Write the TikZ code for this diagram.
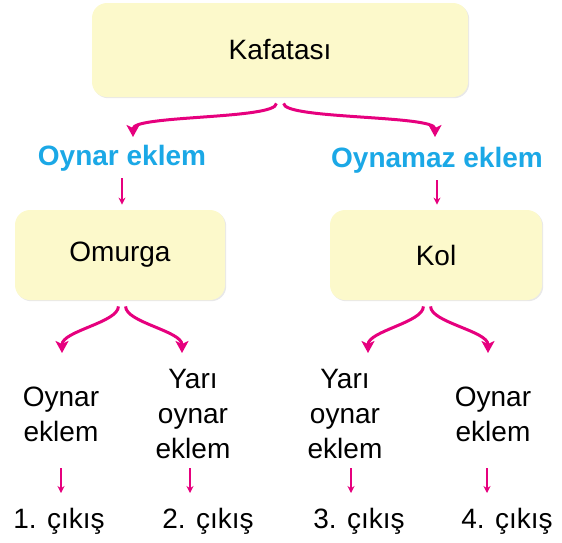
\documentclass[tikz,border=0pt]{standalone}
\usepackage{fontspec}
\setmainfont{Liberation Sans}
\usetikzlibrary{arrows.meta,shadows}
\definecolor{boxyellow}{RGB}{252,249,203}
\definecolor{jointblue}{RGB}{27,168,230}
\definecolor{forkpink}{RGB}{230,0,126}
\tikzset{
  box/.style={rounded corners=7.5pt, fill=boxyellow, font=\fontsize{14}{17.5}\selectfont,
    drop shadow={shadow xshift=0.6pt,shadow yshift=-0.6pt,opacity=0.18}},
  joint/.style={inner sep=0pt, text=jointblue, font=\fontsize{14}{17.5}\selectfont\bfseries},
  kind/.style={inner sep=0pt, align=center, font=\fontsize{14}{17.5}\selectfont},
  branch/.style={draw=forkpink, line width=1.5pt, -{Stealth[length=6pt,width=6.5pt,inset=1.5pt]}},
  link/.style={draw=forkpink, line width=0.9pt, -{Stealth[length=3.5pt,width=3.5pt]}}
}
\newcommand{\fork}[4]{%
  \draw[branch] ([xshift=#2-1.8pt,yshift=-3pt]#1.south) .. controls +(0,-16) and +(0,22) .. (#3);
  \draw[branch] ([xshift=#2+1.8pt,yshift=-3pt]#1.south) .. controls +(0,-16) and +(0,22) .. (#4);
}
\begin{document}
\begin{tikzpicture}[x=0.5pt,y=0.5pt]
  \useasboundingbox (0,0) rectangle (562,-542);
  % kutular
  \node[box, minimum width=188pt, minimum height=47pt] (kafatasi) at (280,-50) {Kafatas\i};
  \node[box, minimum width=105pt, minimum height=45pt] (omurga) at (120,-255) {Omurga};
  \node[box, minimum width=106pt, minimum height=45pt] (kol) at (436,-255) {Kol};
  % eklem turleri
  \node[joint] (oynar) at (122,-158) {Oynar eklem};
  \node[joint] (oynamaz) at (437,-160) {Oynamaz eklem};
  \node[kind] (oynar1) at (61,-414) {Oynar\\eklem};
  \node[kind] (yari2) at (193,-414) {Yar\i\\oynar\\eklem};
  \node[kind] (yari3) at (345,-414) {Yar\i\\oynar\\eklem};
  \node[kind] (oynar4) at (493,-414) {Oynar\\eklem};
  \node[kind] (cikis1) at (59,-521) {1. çıkış};
  \node[kind] (cikis2) at (208,-521) {2. çıkış};
  \node[kind] (cikis3) at (359,-521) {3. çıkış};
  \node[kind] (cikis4) at (507,-521) {4. çıkış};
  % ok uclari
  \coordinate (tipA) at (133,-137);
  \coordinate (tipB) at (435,-137);
  \coordinate (tipC) at (62,-353);
  \coordinate (tipD) at (182,-353);
  \coordinate (tipE) at (368,-353);
  \coordinate (tipF) at (488,-353);
  \coordinate (atop) at (0,-468);
  \coordinate (abot) at (0,-493);
  % #1-kutu #2-kayma #3-sol uc #4-sag uc
  \fork{kafatasi}{0pt}{tipA}{tipB}
  \fork{omurga}{1pt}{tipC}{tipD}
  \fork{kol}{-4.5pt}{tipE}{tipF}
  \draw[link, shorten <=3.5pt, shorten >=2.5pt] (oynar.south) -- (oynar.south |- omurga.north);
  \draw[link, shorten <=3.5pt, shorten >=2.5pt] (oynamaz.south) -- (oynamaz.south |- kol.north);
  \draw[link] (oynar1 |- atop) -- (oynar1 |- abot);
  \draw[link] ([xshift=-1.5pt]yari2 |- atop) -- ([xshift=-1.5pt]yari2 |- abot);
  \draw[link] ([xshift=3pt]yari3 |- atop) -- ([xshift=3pt]yari3 |- abot);
  \draw[link] ([xshift=-3pt]oynar4 |- atop) -- ([xshift=-3pt]oynar4 |- abot);
\end{tikzpicture}
\end{document}
